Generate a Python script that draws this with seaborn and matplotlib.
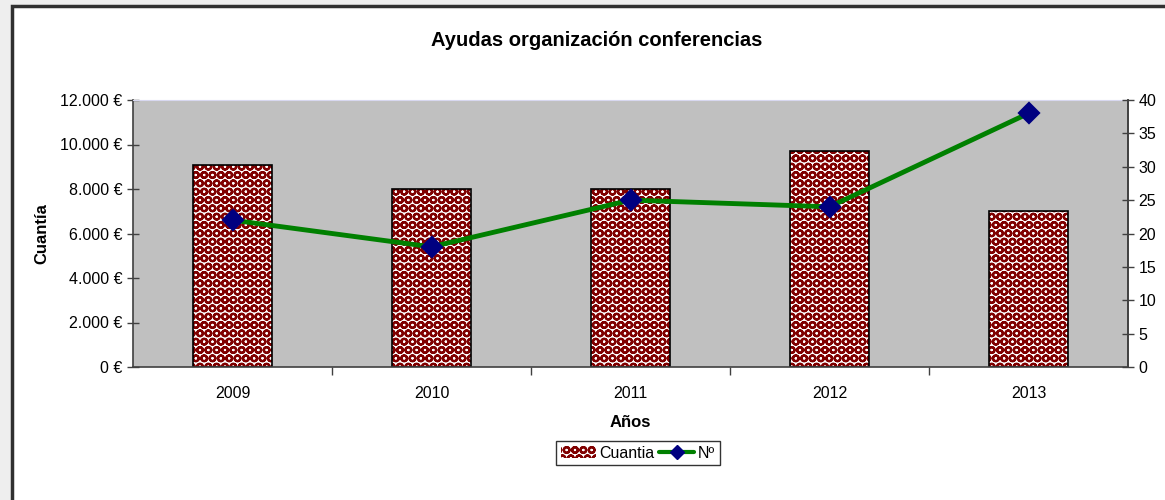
import matplotlib
matplotlib.use("Agg")
import matplotlib.pyplot as plt
import matplotlib.patches as mpatches
from matplotlib.lines import Line2D
from matplotlib.ticker import FuncFormatter, MultipleLocator
import seaborn as sns

# data
years = ["2009", "2010", "2011", "2012", "2013"]
cuantia = [9100, 8000, 8000, 9700, 7000]
num = [22, 18, 25, 24, 38]

sns.set_style("white")
plt.rcParams["font.family"] = ["Liberation Sans", "DejaVu Sans"]
plt.rcParams["text.color"] = "black"
plt.rcParams["axes.labelcolor"] = "black"
plt.rcParams["xtick.color"] = "black"
plt.rcParams["ytick.color"] = "black"
plt.rcParams["hatch.linewidth"] = 1.6

fig = plt.figure(figsize=(11.65, 5), dpi=100, facecolor="#eeeeee")
# white chart area with dark frame
frame = mpatches.Rectangle((12 / 1165, -0.2), 1.2, 1.2 - 6 / 500,
                           transform=fig.transFigure, facecolor="white",
                           edgecolor="#303030", linewidth=2.5, zorder=-10)
fig.add_artist(frame)

ax = fig.add_axes([133 / 1165, 1 - 367 / 500, (1128 - 133) / 1165, 267 / 500])
ax.set_facecolor("#c0c0c0")

# hatched bars, then black outlines
sns.barplot(x=years, y=cuantia, ax=ax, width=0.4, color="white",
            edgecolor="#800000", hatch="OO", linewidth=0, saturation=1)
sns.barplot(x=years, y=cuantia, ax=ax, width=0.4, fill=False,
            edgecolor="black", linewidth=1.2)

ax.set_ylim(0, 12000)
ax.set_xlim(-0.5, 4.5)
ax.yaxis.set_major_locator(MultipleLocator(2000))
ax.yaxis.set_major_formatter(FuncFormatter(lambda v, p: f"{int(v):,} €".replace(",", ".")))
ax.set_xticks(range(len(years)))
ax.set_xticklabels(years)
ax.set_xticks([0.5, 1.5, 2.5, 3.5], minor=True)
ax.tick_params(axis="x", which="major", length=0, labelsize=11.5, pad=14)
ax.tick_params(axis="x", which="minor", length=6, width=1, color="#404040", direction="out", bottom=True)
ax.tick_params(axis="y", length=8, width=1, color="#404040", labelcolor="black",
               direction="inout", labelsize=11.5, left=True)
ax.set_xlabel("Años", fontsize=12, fontweight="bold", labelpad=10)
ax.set_ylabel("Cuantía", fontsize=12, fontweight="bold", labelpad=8)
for s in ["left", "bottom", "right"]:
    ax.spines[s].set_color("#404040")
    ax.spines[s].set_linewidth(1.2)
ax.spines["top"].set_color("#d8d8f0")

ax2 = ax.twinx()
sns.pointplot(x=years, y=num, ax=ax2, color="#008000", linewidth=3.5,
              marker="D", markersize=9, markerfacecolor="#000080",
              markeredgecolor="#000080")
ax2.set_ylim(0, 40)
ax2.set_xlim(-0.5, 4.5)
ax2.yaxis.set_major_locator(MultipleLocator(5))
ax2.tick_params(axis="y", length=8, width=1, color="#404040", labelcolor="black",
                direction="inout", labelsize=11.5, right=True)
ax2.set_ylabel("")
for s in ["left", "bottom", "top"]:
    ax2.spines[s].set_visible(False)
ax2.spines["right"].set_color("#404040")
ax2.spines["right"].set_linewidth(1.2)

fig.text(0.512, 1 - 40 / 500, "Ayudas organización conferencias", ha="center", va="center",
         fontsize=14.5, fontweight="bold")

handles = [mpatches.Patch(facecolor="white", edgecolor="#800000", hatch="OO", linewidth=0),
           Line2D([0], [0], color="#008000", lw=3, marker="D", markersize=7,
                  markerfacecolor="#000080", markeredgecolor="#000080")]
leg = fig.legend(handles, ["Cuantia", "Nº"], loc="center", bbox_to_anchor=(638 / 1165, 1 - 453 / 500),
                 ncol=2, frameon=True, fancybox=False, fontsize=11.5, handlelength=2.2,
                 handletextpad=0.2, columnspacing=0.3, borderpad=0.3)
leg.get_frame().set_edgecolor("black")
leg.get_frame().set_linewidth(1)

fig.savefig("out.png", dpi=100, facecolor=fig.get_facecolor())
